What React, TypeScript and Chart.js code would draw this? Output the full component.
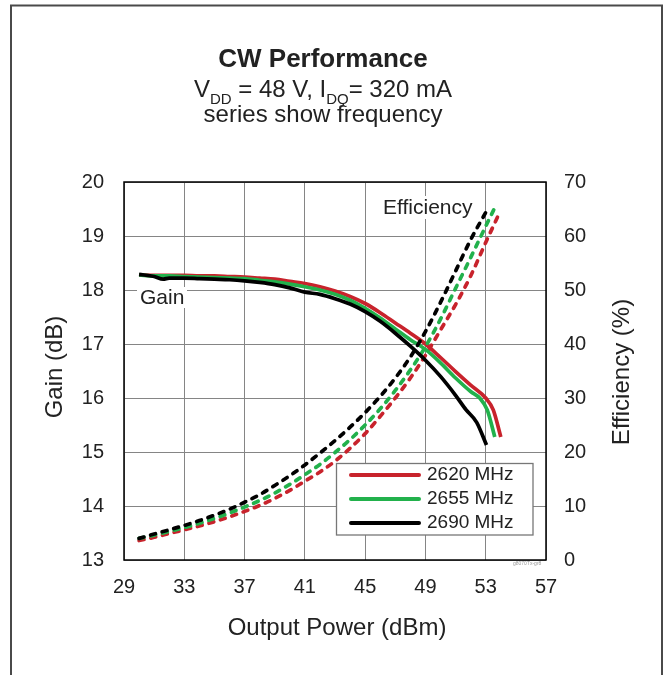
import React, { useEffect, useRef } from "react";
import { Chart, registerables } from "chart.js";

Chart.register(...registerables);

const FONT = "'Liberation Sans', Arial, Helvetica, sans-serif";

const seriesLabels = ["2620 MHz", "2655 MHz", "2690 MHz"];
const seriesColors = ["#c8232c", "#22b14c", "#000000"];

// Gain (left axis, dB) vs output power (dBm)
const powerGain2620 = [30, 31, 32, 33, 34, 35, 36, 37, 38, 39, 40, 41, 42, 43, 44, 45, 46, 47, 48, 49, 50, 51, 52, 53, 53.5, 54];
const gain2620 = [18.28, 18.27, 18.27, 18.27, 18.26, 18.26, 18.25, 18.24, 18.22, 18.2, 18.16, 18.12, 18.06, 17.98, 17.88, 17.75, 17.58, 17.39, 17.2, 17.0, 16.75, 16.49, 16.24, 16.0, 15.78, 15.28];

const powerGain2655 = [30, 31, 32, 33, 34, 35, 36, 37, 38, 39, 40, 41, 42, 43, 44, 45, 46, 47, 48, 49, 50, 51, 52, 52.6, 53.1, 53.6];
const gain2655 = [18.28, 18.26, 18.26, 18.25, 18.24, 18.23, 18.22, 18.21, 18.18, 18.15, 18.11, 18.06, 18.0, 17.92, 17.81, 17.66, 17.48, 17.28, 17.08, 16.9, 16.65, 16.37, 16.12, 16.0, 15.78, 15.28];

const powerGain2690 = [30, 31, 31.6, 32, 33, 34, 35, 36, 37, 38, 39, 40, 41, 42, 43, 44, 45, 46, 47, 48, 49, 50, 51, 51.7, 52.4, 53.05];
const gain2690 = [18.29, 18.25, 18.2, 18.22, 18.22, 18.21, 18.2, 18.19, 18.17, 18.14, 18.1, 18.04, 17.96, 17.92, 17.84, 17.74, 17.6, 17.42, 17.2, 16.96, 16.7, 16.4, 16.05, 15.78, 15.55, 15.13];

// Efficiency (right axis, %) vs output power (dBm)
const powerEff2620 = [30, 31, 32, 33, 34, 35, 36, 37, 38, 39, 40, 41, 42, 43, 44, 45, 46, 47, 48, 49, 50, 51, 52, 53, 53.95];
const eff2620 = [3.6, 4.2, 4.9, 5.6, 6.3, 7.1, 8.0, 9.0, 10.1, 11.4, 12.9, 14.6, 16.3, 18.3, 20.7, 23.4, 26.6, 30.0, 33.7, 37.9, 42.6, 47.3, 52.6, 58.8, 64.5];

const powerEff2655 = [30, 31, 32, 33, 34, 35, 36, 37, 38, 39, 40, 41, 42, 43, 44, 45, 46, 47, 48, 49, 50, 51, 52, 53, 53.56];
const eff2655 = [4.0, 4.6, 5.3, 6.0, 6.8, 7.7, 8.7, 9.8, 11.0, 12.4, 14.0, 15.8, 17.7, 19.9, 22.3, 25.0, 28.0, 31.4, 35.2, 39.5, 44.6, 50.3, 56.0, 61.8, 65.0];

const powerEff2690 = [30, 31, 32, 33, 34, 35, 36, 37, 38, 39, 40, 41, 42, 43, 44, 45, 46, 47, 48, 49, 50, 51, 52, 53.05];
const eff2690 = [4.0, 4.8, 5.6, 6.4, 7.3, 8.3, 9.4, 10.7, 12.1, 13.8, 15.6, 17.6, 19.8, 22.1, 24.6, 27.3, 30.3, 33.7, 37.6, 42.3, 47.7, 53.5, 59.3, 64.6];

const xMin = 29, xMax = 57, xStep = 4;
const gainMin = 13, gainMax = 20, gainStep = 1;
const effMin = 0, effMax = 70, effStep = 10;

function pts(xs: number[], ys: number[]) {
  return xs.map((x, i) => ({ x, y: ys[i] }));
}

const decoPlugin = {
  id: "deco",
  beforeDatasetsDraw(chart: any) {
    const ctx = chart.ctx as CanvasRenderingContext2D;
    ctx.save();
    ctx.font = `21px ${FONT}`;
    ctx.textBaseline = "middle";
    ctx.textAlign = "left";
    ctx.fillStyle = "#ffffff";
    ctx.fillRect(137, 287, 50, 21);
    ctx.fillStyle = "#222";
    ctx.fillText("Gain", 140, 298);
    ctx.fillStyle = "#ffffff";
    ctx.fillRect(380, 196, 97, 23);
    ctx.fillStyle = "#222";
    ctx.fillText("Efficiency", 383, 208);
    ctx.restore();
  },
  afterDraw(chart: any) {
    const ctx = chart.ctx as CanvasRenderingContext2D;
    const { left, top, right, bottom } = chart.chartArea;
    ctx.save();
    ctx.strokeStyle = "#000";
    ctx.lineWidth = 1.5;
    ctx.strokeRect(left, top, right - left, bottom - top);

    ctx.strokeStyle = "#4a4a4a";
    ctx.lineWidth = 2;
    ctx.beginPath();
    ctx.moveTo(11, 675);
    ctx.lineTo(11, 5.5);
    ctx.lineTo(662, 5.5);
    ctx.lineTo(662, 675);
    ctx.stroke();

    ctx.fillStyle = "#222";
    ctx.textAlign = "center";
    ctx.textBaseline = "alphabetic";
    ctx.font = `bold 26px ${FONT}`;
    ctx.fillText("CW Performance", 323, 66.5);

    const parts = [
      { t: "V", sub: false },
      { t: "DD", sub: true },
      { t: " = 48 V, I", sub: false },
      { t: "DQ", sub: true },
      { t: "= 320 mA", sub: false },
    ];
    const mainFont = `24px ${FONT}`;
    const subFont = `15px ${FONT}`;
    let total = 0;
    parts.forEach((p) => {
      ctx.font = p.sub ? subFont : mainFont;
      total += ctx.measureText(p.t).width;
    });
    let cx = 323 - total / 2;
    ctx.textAlign = "left";
    parts.forEach((p) => {
      ctx.font = p.sub ? subFont : mainFont;
      ctx.fillText(p.t, cx, p.sub ? 104 : 97);
      cx += ctx.measureText(p.t).width;
    });
    ctx.textAlign = "center";
    ctx.font = mainFont;
    ctx.fillText("series show frequency", 323, 121.5);

    ctx.font = `24px ${FONT}`;
    ctx.textBaseline = "middle";
    ctx.fillText("Output Power (dBm)", 337, 628);
    ctx.save();
    ctx.translate(55, 367);
    ctx.rotate(-Math.PI / 2);
    ctx.fillText("Gain (dB)", 0, 0);
    ctx.restore();
    ctx.save();
    ctx.translate(622, 372);
    ctx.rotate(-Math.PI / 2);
    ctx.fillText("Efficiency (%)", 0, 0);
    ctx.restore();

    ctx.fillStyle = "#ffffff";
    ctx.fillRect(336.5, 463.5, 196.5, 71.5);
    ctx.strokeStyle = "#777";
    ctx.lineWidth = 1.3;
    ctx.strokeRect(336.5, 463.5, 196.5, 71.5);
    ctx.font = `19px ${FONT}`;
    ctx.textAlign = "left";
    ctx.textBaseline = "middle";
    seriesLabels.forEach((lab, i) => {
      const y = 475 + i * 24;
      ctx.strokeStyle = seriesColors[i];
      ctx.lineWidth = 4;
      ctx.lineCap = "round";
      ctx.beginPath();
      ctx.moveTo(351, y);
      ctx.lineTo(419, y);
      ctx.stroke();
      ctx.fillStyle = "#222";
      ctx.fillText(lab, 427, y);
    });

    ctx.font = `5px ${FONT}`;
    ctx.fillStyle = "#999";
    ctx.textAlign = "left";
    ctx.fillText("g8070Tx-gr8", 513, 564);
    ctx.restore();
  },
};

export default function App() {
  const ref = useRef<HTMLCanvasElement | null>(null);

  useEffect(() => {
    if (!ref.current) return;
    const mk = (label: string, xs: number[], ys: number[], color: string, axis: string, dashed: boolean, order: number) => ({
      label,
      data: pts(xs, ys),
      borderColor: color,
      backgroundColor: color,
      borderWidth: 3.7,
      borderDash: dashed ? [5, 7] : [],
      borderCapStyle: dashed ? "round" : "butt",
      borderJoinStyle: "round",
      pointRadius: 0,
      fill: false,
      cubicInterpolationMode: "monotone",
      yAxisID: axis,
      order,
    });
    const datasets: any[] = [
      mk(seriesLabels[0] + " Gain", powerGain2620, gain2620, seriesColors[0], "y", false, 5),
      mk(seriesLabels[1] + " Gain", powerGain2655, gain2655, seriesColors[1], "y", false, 3),
      mk(seriesLabels[2] + " Gain", powerGain2690, gain2690, seriesColors[2], "y", false, 1),
      mk(seriesLabels[0] + " Eff", powerEff2620, eff2620, seriesColors[0], "y2", true, 4),
      mk(seriesLabels[1] + " Eff", powerEff2655, eff2655, seriesColors[1], "y2", true, 2),
      mk(seriesLabels[2] + " Eff", powerEff2690, eff2690, seriesColors[2], "y2", true, 0),
    ];
    const tickFont = { size: 20, family: FONT };
    const chart = new Chart(ref.current, {
      type: "line",
      data: { datasets },
      plugins: [decoPlugin],
      options: {
        responsive: false,
        animation: false,
        devicePixelRatio: 1,
        layout: { padding: { top: 182, left: 0, right: 0, bottom: 0 } },
        plugins: {
          legend: { display: false },
          title: { display: false },
          tooltip: { enabled: false },
        },
        scales: {
          x: {
            type: "linear",
            min: xMin,
            max: xMax,
            ticks: { stepSize: xStep, font: tickFont, color: "#222", padding: 15 },
            grid: { color: "#858585", lineWidth: 1, drawTicks: false },
            border: { display: false },
            afterFit: (s: any) => { s.height = 115; },
          },
          y: {
            type: "linear",
            position: "left",
            min: gainMin,
            max: gainMax,
            ticks: { stepSize: gainStep, font: tickFont, color: "#222", padding: 20 },
            grid: { color: "#858585", lineWidth: 1, drawTicks: false },
            border: { display: false },
            afterFit: (s: any) => { s.width = 124; },
          },
          y2: {
            type: "linear",
            position: "right",
            min: effMin,
            max: effMax,
            ticks: { stepSize: effStep, font: tickFont, color: "#222", padding: 18 },
            grid: { drawOnChartArea: false, drawTicks: false },
            border: { display: false },
            afterFit: (s: any) => { s.width = 119; },
          },
        },
      } as any,
    });
    return () => chart.destroy();
  }, []);

  return (
    <div style={{ position: "absolute", left: 0, top: 0, width: 665, height: 675, background: "#fff" }}>
      <canvas ref={ref} width={665} height={675} style={{ display: "block" }} />
    </div>
  );
}
